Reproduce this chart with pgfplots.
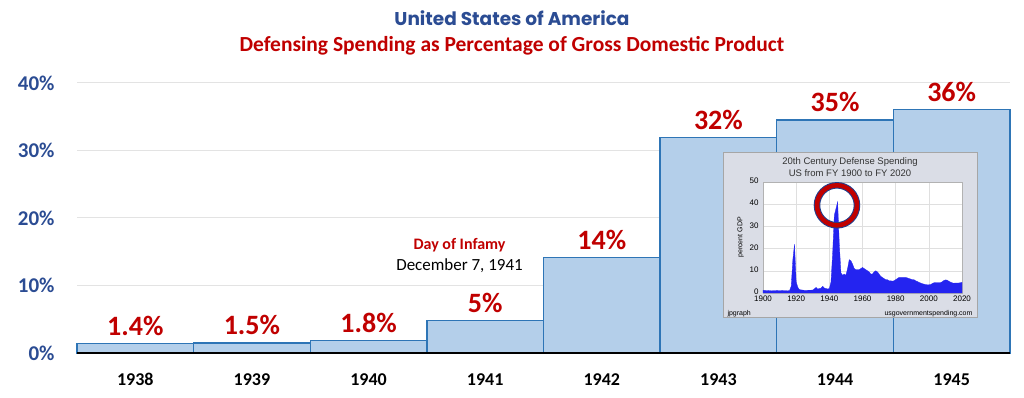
\documentclass[border=0pt]{standalone}
\usepackage{pgfplots}
\pgfplotsset{compat=1.18}
\usepackage{pgfplotstable}
\usepackage{fontspec}
\setmainfont{Carlito}
\newfontfamily\titlefont{Poppins}
\newfontfamily\arialfont{Liberation Sans}
\definecolor{tblue}{HTML}{2B4C93}
\definecolor{tred}{HTML}{C00000}
\definecolor{barfill}{HTML}{B4CFEA}
\definecolor{baredge}{HTML}{2E75B6}
\definecolor{gridc}{HTML}{E3E3E3}
\definecolor{insetbg}{HTML}{DADDE6}
\definecolor{insetblue}{HTML}{2424F0}
\definecolor{ringblue}{HTML}{1F3F8F}

\pgfplotstableread{
x y label
0 1.4 1.4\%
1 1.5 1.5\%
2 1.8 1.8\%
3 4.8 5\%
4 14.1 14\%
5 31.9 32\%
6 34.5 35\%
7 36.1 36\%
}\maindata

\pgfplotstableread{
year pct
1900 1.2
1905 1.0
1910 1.1
1915 1.0
1916 1.1
1917 3.0
1918 15
1919 22
1920 5
1921 2.5
1922 1.5
1925 1.2
1930 1.3
1932 2.5
1933 1.8
1935 2.2
1936 3.0
1937 2.2
1939 1.8
1940 2.0
1941 5
1942 18
1943 35
1944 38
1945 41
1946 22
1947 9
1948 8
1949 8.5
1950 8
1951 11
1952 15
1953 14.5
1954 13
1955 11
1956 10.5
1957 10.5
1958 10.5
1959 11
1960 11.5
1961 11
1962 10.5
1963 10
1964 9.5
1965 8.5
1966 8.5
1967 9.5
1968 10
1969 9.5
1970 8.5
1971 7.5
1972 7
1973 6.5
1974 6
1975 6
1976 5.5
1977 5.5
1978 5.3
1979 5.5
1980 6
1981 6.5
1982 7
1983 7
1984 7
1985 7
1986 7
1987 6.8
1988 6.5
1989 6.3
1990 6
1991 6
1992 5.5
1993 5.2
1994 4.8
1995 4.5
1996 4.2
1997 4.0
1998 3.8
1999 3.7
2000 3.7
2001 3.8
2002 4.2
2003 4.6
2004 4.7
2005 4.7
2006 4.7
2007 4.7
2008 5.0
2009 5.6
2010 5.9
2011 5.8
2012 5.3
2013 4.9
2014 4.6
2015 4.4
2016 4.5
2017 4.5
2018 4.5
2019 4.6
2020 4.8
}\insetdata

\begin{document}
\begin{tikzpicture}[x=1pt,y=1pt]
\useasboundingbox (0,0) rectangle (1024,398);
\node[font=\titlefont\bfseries\fontsize{18.5}{21}\selectfont, text=tblue] at (512,380) {United States of America};
\node[font=\bfseries\fontsize{21.5}{24}\selectfont, text=tred] at (512,352) {Defensing Spending as Percentage of Gross Domestic Product};

\begin{axis}[
  at={(77pt,45pt)}, anchor=south west,
  scale only axis, width=933pt, height=270pt,
  xmin=-0.5, xmax=7.5, ymin=0, ymax=40,
  axis x line*=bottom, axis y line*=left,
  x axis line style={draw=none}, y axis line style={draw=none},
  major tick length=0pt,
  xtick={0,...,7},
  xticklabels={1938,1939,1940,1941,1942,1943,1944,1945},
  xticklabel style={font=\bfseries\fontsize{18}{20}\selectfont, text=black, yshift=-17pt},
  ytick={0,10,20,30,40},
  yticklabel={\pgfmathprintnumber[assume math mode=true]{\tick}\%},
  yticklabel style={font=\bfseries\fontsize{21}{24}\selectfont, text=tblue, xshift=-19pt},
  ymajorgrids, grid style={gridc, line width=1pt},
  clip=false,
]
\addplot[ybar, bar width=1, fill=barfill, draw=baredge, line width=1.3pt,
  nodes near coords, point meta=explicit symbolic,
  nodes near coords style={font=\bfseries\fontsize{28}{30}\selectfont, text=tred, anchor=south, yshift=4pt}]
  table[x=x, y=y, meta=label] {\maindata};
\draw[black, line width=2pt] (axis cs:-0.5,0) -- (axis cs:7.5,0);
\node[font=\bfseries\fontsize{16}{18}\selectfont, text=tred] at (axis cs:2.78,16.0) {Day of Infamy};
\node[font=\fontsize{17}{19}\selectfont, text=black] at (axis cs:2.78,13.0) {December 7, 1941};
\end{axis}

% inset frame
\filldraw[fill=insetbg, draw=gray!70, line width=1pt] (723,80) rectangle (977,245);
\node[font=\arialfont\fontsize{9.5}{11}\selectfont, text=black!80] at (850,236) {20th Century Defense Spending};
\node[font=\arialfont\fontsize{9.5}{11}\selectfont, text=black!80] at (850,225) {US from FY 1900 to FY 2020};
\node[font=\arialfont\fontsize{7}{8}\selectfont, anchor=west] at (724,84) {jpgraph};
\node[font=\arialfont\fontsize{7}{8}\selectfont, anchor=east] at (976,84) {usgovernmentspending.com};

\begin{axis}[
  at={(763pt,105pt)}, anchor=south west,
  scale only axis, width=199pt, height=111pt,
  xmin=1900, xmax=2020, ymin=0, ymax=50,
  xtick={1900,1920,...,2020}, ytick={0,10,...,50},
  /pgf/number format/assume math mode=true,
  xticklabel style={/pgf/number format/1000 sep={}},
  tick label style={font=\arialfont\fontsize{8}{9}\selectfont},
  xticklabel style={yshift=1pt},
  yticklabel style={xshift=-1pt, yshift=1pt},
  major tick length=0pt,
  axis background/.style={fill=white},
  axis line style={draw=gray!60},
  grid=major, grid style={gray!25},
  ylabel={percent GDP},
  ylabel style={font=\arialfont\fontsize{7}{8}\selectfont, yshift=-1pt},
  clip=false,
]
\addplot[fill=insetblue, draw=insetblue, line width=0.3pt] table[x=year, y=pct] {\insetdata} \closedcycle;
\addplot[only marks, mark=o, mark size=20pt, mark options={draw=ringblue, line width=6.5pt}] coordinates {(1944.6,39.5)};
\addplot[only marks, mark=o, mark size=20pt, mark options={draw=tred, line width=4.5pt}] coordinates {(1944.6,39.5)};
\end{axis}
\end{tikzpicture}
\end{document}
